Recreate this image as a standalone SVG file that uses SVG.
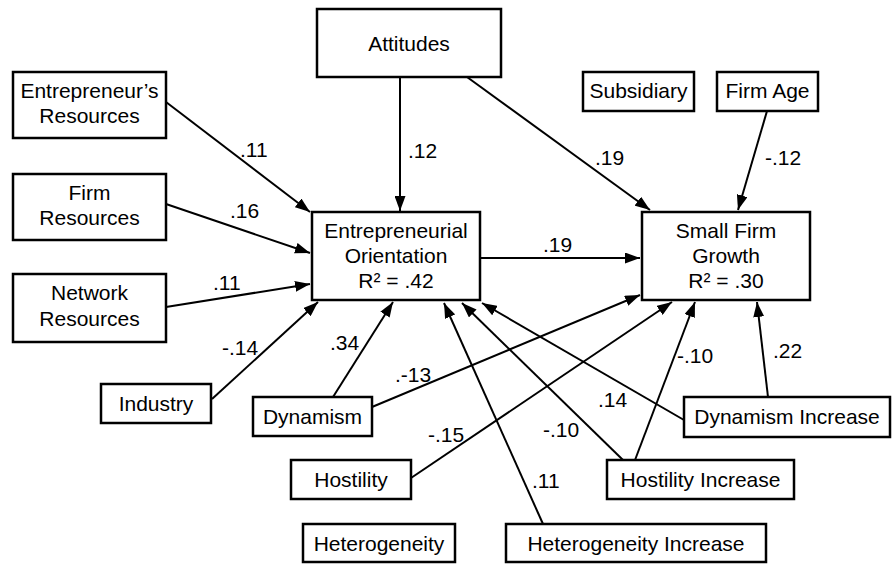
<svg xmlns="http://www.w3.org/2000/svg" width="892" height="564" viewBox="0 0 892 564">
<style>
.box{fill:#fff;stroke:#000;stroke-width:2.5}
.t{font-family:"Liberation Sans",Arial,sans-serif;font-size:21px;fill:#000;text-anchor:middle}
.lbl{font-family:"Liberation Sans",Arial,sans-serif;font-size:21px;fill:#000}
.c{stroke:#000;stroke-width:2;fill:none;marker-end:url(#ah)}
</style>
<defs>
<marker id="ah" markerUnits="userSpaceOnUse" markerWidth="15" markerHeight="11" refX="15" refY="5.5" orient="auto">
<path d="M0,0 L15,5.5 L0,11 z" fill="#000"/>
</marker>
</defs>
<rect width="892" height="564" fill="#fff"/>
<g id="connectors">
<line class="c" x1="400" y1="77" x2="400" y2="211"/>
<line class="c" x1="467" y1="77" x2="650" y2="210"/>
<line class="c" x1="767" y1="111" x2="738" y2="210"/>
<line class="c" x1="166" y1="102" x2="310" y2="212"/>
<line class="c" x1="166" y1="204" x2="310" y2="253"/>
<line class="c" x1="166" y1="307" x2="310" y2="284"/>
<line class="c" x1="212" y1="399" x2="318" y2="302"/>
<line class="c" x1="333" y1="397" x2="393" y2="302"/>
<line class="c" x1="372" y1="407" x2="640" y2="295"/>
<line class="c" x1="411" y1="478" x2="672" y2="302"/>
<line class="c" x1="543" y1="524" x2="444" y2="303"/>
<line class="c" x1="623" y1="460" x2="462" y2="303"/>
<line class="c" x1="684" y1="420" x2="482" y2="303"/>
<line class="c" x1="635" y1="460" x2="695" y2="302"/>
<line class="c" x1="768" y1="397" x2="757" y2="302"/>
<line class="c" x1="480" y1="258" x2="640" y2="258"/>
</g>
<g id="labels">
<text class="lbl" x="240" y="157">.11</text>
<text class="lbl" x="408" y="158">.12</text>
<text class="lbl" x="595" y="165">.19</text>
<text class="lbl" x="765" y="165">-.12</text>
<text class="lbl" x="230" y="218">.16</text>
<text class="lbl" x="213" y="290">.11</text>
<text class="lbl" x="222" y="355">-.14</text>
<text class="lbl" x="330" y="350">.34</text>
<text class="lbl" x="395" y="382">.-13</text>
<text class="lbl" x="428" y="442">-.15</text>
<text class="lbl" x="532" y="488">.11</text>
<text class="lbl" x="543" y="437">-.10</text>
<text class="lbl" x="598" y="407">.14</text>
<text class="lbl" x="677" y="363">-.10</text>
<text class="lbl" x="773" y="358">.22</text>
<text class="lbl" x="543" y="252">.19</text>
</g>
<g id="attitudes"><rect class="box" x="317" y="9" width="184" height="68"/><text class="t" x="409" y="51">Attitudes</text></g>
<g id="entrepreneurs-resources"><rect class="box" x="13" y="72" width="153" height="66"/><text class="t" x="89.5" y="98">Entrepreneur’s</text><text class="t" x="89.5" y="123">Resources</text></g>
<g id="firm-resources"><rect class="box" x="13" y="174" width="153" height="66"/><text class="t" x="89.5" y="200">Firm</text><text class="t" x="89.5" y="225">Resources</text></g>
<g id="network-resources"><rect class="box" x="13" y="274" width="153" height="68"/><text class="t" x="89.5" y="300">Network</text><text class="t" x="89.5" y="326">Resources</text></g>
<g id="subsidiary"><rect class="box" x="583" y="72" width="111" height="39"/><text class="t" x="638.5" y="98">Subsidiary</text></g>
<g id="firm-age"><rect class="box" x="717" y="72" width="101" height="39"/><text class="t" x="767.5" y="98">Firm Age</text></g>
<g id="eo"><rect class="box" x="312" y="212" width="168" height="88"/><text class="t" x="396" y="238">Entrepreneurial</text><text class="t" x="396" y="263">Orientation</text><text class="t" x="396" y="288">R² = .42</text></g>
<g id="sfg"><rect class="box" x="642" y="212" width="168" height="88"/><text class="t" x="726" y="238">Small Firm</text><text class="t" x="726" y="263">Growth</text><text class="t" x="726" y="288">R² = .30</text></g>
<g id="industry"><rect class="box" x="101" y="384" width="110" height="39"/><text class="t" x="156" y="411">Industry</text></g>
<g id="dynamism"><rect class="box" x="253" y="397" width="119" height="39"/><text class="t" x="312.5" y="424">Dynamism</text></g>
<g id="hostility"><rect class="box" x="291" y="460" width="120" height="39"/><text class="t" x="351" y="487">Hostility</text></g>
<g id="heterogeneity"><rect class="box" x="303" y="524" width="152" height="38"/><text class="t" x="379" y="551">Heterogeneity</text></g>
<g id="heterogeneity-increase"><rect class="box" x="506" y="524" width="260" height="38"/><text class="t" x="636" y="551">Heterogeneity Increase</text></g>
<g id="hostility-increase"><rect class="box" x="607" y="460" width="187" height="39"/><text class="t" x="700.5" y="487">Hostility Increase</text></g>
<g id="dynamism-increase"><rect class="box" x="684" y="397" width="206" height="40"/><text class="t" x="787" y="424">Dynamism Increase</text></g>
</svg>
